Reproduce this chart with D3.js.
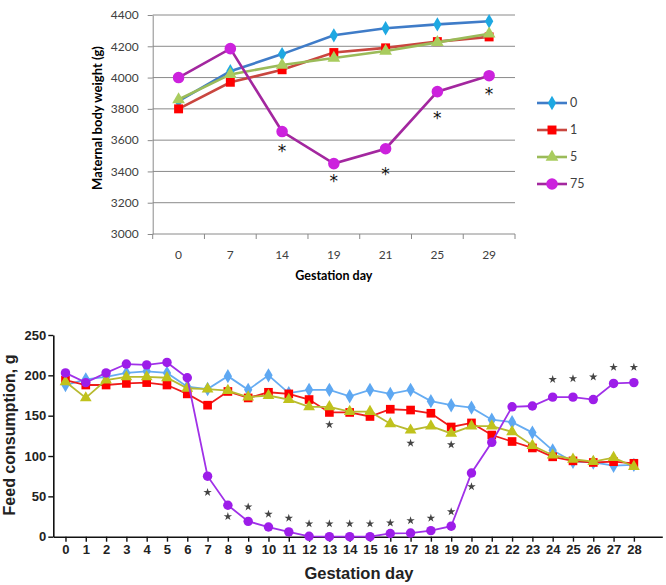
<!DOCTYPE html>
<html>
<head>
<meta charset="utf-8">
<script src="https://cdn.jsdelivr.net/npm/d3@7"></script>
<style>
  body { margin: 0; background: #fff; }
  svg { display: block; }
</style>
</head>
<body>
<div id="chart"></div>
<script>
// ---- top chart: maternal body weight ----
var weightDays = ["0", "7", "14", "19", "21", "25", "29"];
var weightTicks = [3000, 3200, 3400, 3600, 3800, 4000, 4200, 4400];
var weightDose0 = [3850, 4040, 4150, 4270, 4315, 4340, 4360];
var weightDose1 = [3800, 3970, 4050, 4160, 4190, 4230, 4260];
var weightDose5 = [3860, 4020, 4080, 4125, 4170, 4225, 4280];
var weightDose75 = [4000, 4185, 3655, 3450, 3545, 3910, 4012];
// asterisk positions (in g) for significant days of dose 75
var weightStarDays = ["14", "19", "21", "25", "29"];
var weightStarAt = [3560, 3370, 3410, 3770, 3925];

// ---- bottom chart: feed consumption ----
var feedDays = d3.range(0, 29);
var feedTicks = [0, 50, 100, 150, 200, 250];
var feedDose0 = [188, 195, 198, 203, 205, 203, 186, 183, 199, 182, 200, 178, 182, 182,
  174, 182, 177, 182, 168, 163, 160, 145, 142, 129, 107, 93, 92, 88, 89];
var feedDose1 = [194, 188, 188, 190, 191, 188, 177, 163, 180, 172, 179, 177, 170, 154,
  154, 149, 158, 157, 153, 136, 141, 126, 118, 110, 99, 94, 92, 93, 91];
var feedDose5 = [192, 172, 194, 198, 198, 197, 184, 183, 181, 173, 175, 170, 161, 161,
  155, 155, 140, 132, 137, 128, 137, 137, 130, 113, 101, 96, 93, 98, 87];
var feedDose75 = [203, 191, 203, 214, 213, 216, 197, 75, 39, 19, 12, 6, 0.5, 0,
  0, 0, 4, 4.5, 7.5, 13, 79, 117, 161, 162, 173, 173, 170, 190, 191];
var feedStarDays = [7, 8, 9, 10, 11, 12, 13, 13, 14, 15, 16, 17, 17, 18, 19, 19, 20, 24, 25, 26, 27, 28];
var feedStarAt = [55, 25, 37, 28, 23, 16, 16, 139, 16, 16, 17, 20, 116, 23, 31, 114, 62, 195, 196, 198, 210, 210];

var W = 666, H = 585;

var svg = d3.select("#chart").append("svg")
  .attr("width", W)
  .attr("height", H);

function drawWeightChart() {
  var x = d3.scaleBand().domain(weightDays).range([152.7, 515]);
  var y = d3.scaleLinear().domain([3000, 4400]).range([234, 15]);
  var g = svg.append("g");
  var axisColor = "#8a8a8a";
  var font = "Lato, 'Open Sans', sans-serif";

  // grid
  g.selectAll(".grid")
    .data(weightTicks.slice(1))
    .join("line")
    .attr("x1", x.range()[0])
    .attr("x2", x.range()[1])
    .attr("y1", d => y(d))
    .attr("y2", d => y(d))
    .attr("stroke", axisColor)
    .attr("stroke-width", 1);

  // y axis
  var yAxis = g.append("g")
    .attr("transform", `translate(${x.range()[0]},0)`)
    .call(d3.axisLeft(y).tickValues(weightTicks).tickFormat(d3.format("d"))
      .tickSize(5).tickSizeOuter(0).tickPadding(9));
  yAxis.select(".domain").attr("stroke", axisColor);
  yAxis.selectAll(".tick line").attr("stroke", axisColor);
  yAxis.selectAll("text")
    .style("font-family", font).style("font-size", "12px").attr("fill", "#404040");

  // x axis with ticks between categories
  g.append("line")
    .attr("x1", x.range()[0]).attr("x2", x.range()[1])
    .attr("y1", y(3000)).attr("y2", y(3000))
    .attr("stroke", axisColor);
  var bounds = weightDays.map(d => x(d)).concat([x.range()[1]]);
  g.selectAll(".xtick")
    .data(bounds)
    .join("line")
    .attr("x1", d => d).attr("x2", d => d)
    .attr("y1", y(3000)).attr("y2", y(3000) + 5)
    .attr("stroke", axisColor);
  g.selectAll(".xlabel")
    .data(weightDays)
    .join("text")
    .attr("x", d => x(d) + x.bandwidth() / 2)
    .attr("y", 259)
    .attr("text-anchor", "middle")
    .style("font-family", font).style("font-size", "12px")
    .attr("fill", "#404040")
    .text(d => d);

  // titles
  g.append("text")
    .attr("x", (x.range()[0] + x.range()[1]) / 2)
    .attr("y", 280)
    .attr("text-anchor", "middle")
    .style("font-family", font).style("font-size", "12.5px").style("font-weight", "bold")
    .attr("fill", "#000")
    .text("Gestation day");
  g.append("text")
    .attr("transform", "translate(102,118) rotate(-90)")
    .attr("text-anchor", "middle")
    .style("font-family", font).style("font-size", "13px").style("font-weight", "bold")
    .attr("fill", "#000")
    .text("Maternal body weight (g)");

  var series = [
    { name: "0", values: weightDose0, line: "#3f7cc8", fill: "#1ea8e2", symbol: d3.symbolDiamond, size: 60 },
    { name: "1", values: weightDose1, line: "#c9463f", fill: "#ff0000", symbol: d3.symbolSquare, size: 80 },
    { name: "5", values: weightDose5, line: "#9bbb59", fill: "#a9cc5e", symbol: d3.symbolTriangle, size: 70 },
    { name: "75", values: weightDose75, line: "#a3279f", fill: "#cc22dd", symbol: d3.symbolCircle, size: 105 }
  ];

  var line = d3.line()
    .x((d, i) => x(weightDays[i]) + x.bandwidth() / 2)
    .y(d => y(d));

  series.forEach(s => {
    g.append("path")
      .datum(s.values)
      .attr("d", line)
      .attr("fill", "none")
      .attr("stroke", s.line)
      .attr("stroke-width", 2.6);
    g.selectAll(null)
      .data(s.values)
      .join("path")
      .attr("transform", (d, i) => `translate(${x(weightDays[i]) + x.bandwidth() / 2},${y(d)})`)
      .attr("d", d3.symbol().type(s.symbol).size(s.size))
      .attr("fill", s.fill);
  });

  // significance asterisks
  g.selectAll(".star")
    .data(weightStarDays)
    .join("text")
    .attr("x", d => x(d) + x.bandwidth() / 2)
    .attr("y", (d, i) => y(weightStarAt[i]))
    .attr("dy", "0.62em")
    .attr("text-anchor", "middle")
    .style("font-family", "'DejaVu Sans', sans-serif").style("font-size", "17px")
    .attr("fill", "#111")
    .text("*");

  // legend
  var legend = g.append("g").attr("transform", "translate(537,103)");
  series.forEach((s, i) => {
    var row = legend.append("g").attr("transform", `translate(0,${i * 27})`);
    row.append("line")
      .attr("x1", 0).attr("x2", 30)
      .attr("stroke", s.line).attr("stroke-width", 2.6);
    row.append("path")
      .attr("transform", "translate(15,0)")
      .attr("d", d3.symbol().type(s.symbol).size(s.size))
      .attr("fill", s.fill);
    row.append("text")
      .attr("x", 33).attr("y", 0).attr("dy", "0.35em")
      .style("font-family", font).style("font-size", "12.5px")
      .attr("fill", "#404040")
      .text(s.name);
  });
}

function drawFeedChart() {
  var x = d3.scaleLinear().domain([-0.6, 29.4]).range([53.3, 662.3]);
  var y = d3.scaleLinear().domain([0, 250]).range([536.7, 335]);
  var g = svg.append("g");
  var font = "'Liberation Sans', Arial, sans-serif";

  var xAxis = g.append("g")
    .attr("transform", `translate(0,${y(0)})`)
    .call(d3.axisBottom(x).tickValues(feedDays).tickSize(5).tickSizeOuter(0).tickPadding(3));
  xAxis.select(".domain").attr("stroke", "#111").attr("stroke-width", 1.6);
  xAxis.selectAll(".tick line").attr("stroke", "#111").attr("stroke-width", 1.4);
  xAxis.selectAll("text")
    .style("font-family", font).style("font-size", "13px").style("font-weight", "bold")
    .attr("fill", "#222");

  var yAxis = g.append("g")
    .attr("transform", `translate(${x(-0.6)},0)`)
    .call(d3.axisLeft(y).tickValues(feedTicks).tickSize(5).tickSizeOuter(0).tickPadding(2));
  yAxis.select(".domain").attr("stroke", "#111").attr("stroke-width", 1.6);
  yAxis.selectAll(".tick line").attr("stroke", "#111").attr("stroke-width", 1.4);
  yAxis.selectAll("text")
    .style("font-family", font).style("font-size", "13px").style("font-weight", "bold")
    .attr("fill", "#222");

  g.append("text")
    .attr("x", 359)
    .attr("y", 579)
    .attr("text-anchor", "middle")
    .style("font-family", font).style("font-size", "16.5px").style("font-weight", "bold")
    .attr("fill", "#222")
    .text("Gestation day");
  g.append("text")
    .attr("transform", "translate(15,435) rotate(-90)")
    .attr("text-anchor", "middle")
    .style("font-family", font).style("font-size", "16px").style("font-weight", "bold")
    .attr("fill", "#222")
    .text("Feed consumption, g");

  var series = [
    { values: feedDose0, line: "#66acf2", fill: "#5ea8f2", symbol: d3.symbolDiamond, size: 60 },
    { values: feedDose1, line: "#ee1c1c", fill: "#ff0000", symbol: d3.symbolSquare, size: 75 },
    { values: feedDose5, line: "#b8ba30", fill: "#c0c21c", symbol: d3.symbolTriangle, size: 60 },
    { values: feedDose75, line: "#a030e8", fill: "#9d1de9", symbol: d3.symbolCircle, size: 70 }
  ];

  var line = d3.line()
    .x((d, i) => x(feedDays[i]))
    .y(d => y(d));

  series.forEach(s => {
    g.append("path")
      .datum(s.values)
      .attr("d", line)
      .attr("fill", "none")
      .attr("stroke", s.line)
      .attr("stroke-width", 1.8);
    g.selectAll(null)
      .data(s.values)
      .join("path")
      .attr("transform", (d, i) => `translate(${x(feedDays[i])},${y(d)})`)
      .attr("d", d3.symbol().type(s.symbol).size(s.size))
      .attr("fill", s.fill);
  });

  g.selectAll(".star")
    .data(feedStarDays)
    .join("path")
    .attr("transform", (d, i) => `translate(${x(d)},${y(feedStarAt[i])})`)
    .attr("d", d3.symbol().type(d3.symbolStar).size(22))
    .attr("fill", "#444");
}

drawWeightChart();
drawFeedChart();
</script>
</body>
</html>
